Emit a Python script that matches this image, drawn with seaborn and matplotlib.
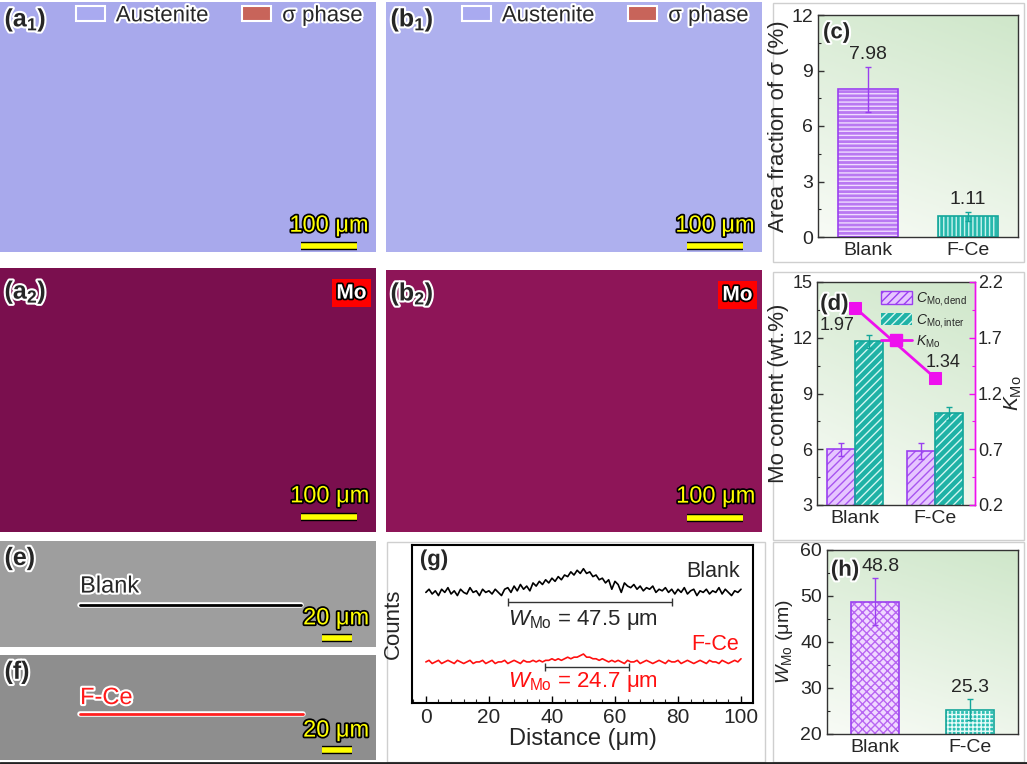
import numpy as np
import pandas as pd
import seaborn as sns
import matplotlib.pyplot as plt
import matplotlib.patheffects as pe
from matplotlib.patches import Patch, Rectangle
from matplotlib.lines import Line2D
from matplotlib.colors import LinearSegmentedColormap
from matplotlib.ticker import AutoMinorLocator, MultipleLocator

# ---- data ----
groups = ["Blank", "F-Ce"]
sigma_frac = [7.98, 1.11]          # (c) area fraction of sigma (%)
sigma_err = [1.2, 0.25]
mo_dend = [6.0, 5.9]               # (d) Mo content in dendrite (wt.%)
mo_dend_err = [0.35, 0.45]
mo_inter = [11.8, 7.95]            # (d) Mo content interdendritic (wt.%)
mo_inter_err = [0.35, 0.35]
k_mo = [1.97, 1.34]                # (d) segregation ratio
k_ticks = [0.2, 0.7, 1.2, 1.7, 2.2]
w_mo = [48.8, 25.3]                # (h) width of Mo segregation (um)
w_mo_err = [5.2, 2.3]

# (g) line-scan profiles (normalised counts)
dist = list(range(101))
blank_counts = [
    0.70, 0.72, 0.69, 0.71, 0.68, 0.72, 0.70, 0.73, 0.69, 0.71,
    0.68, 0.72, 0.70, 0.69, 0.73, 0.70, 0.71, 0.68, 0.72, 0.70,
    0.71, 0.69, 0.72, 0.70, 0.68, 0.72, 0.73, 0.70, 0.74, 0.71,
    0.75, 0.72, 0.74, 0.71, 0.76, 0.74, 0.77, 0.75, 0.78, 0.76,
    0.79, 0.77, 0.80, 0.78, 0.81, 0.80, 0.83, 0.81, 0.84, 0.82,
    0.85, 0.82, 0.83, 0.80, 0.81, 0.78, 0.79, 0.76, 0.78, 0.72,
    0.77, 0.75, 0.70, 0.76, 0.74, 0.73, 0.75, 0.72, 0.74, 0.71,
    0.73, 0.72, 0.74, 0.70, 0.72, 0.71, 0.73, 0.70, 0.72, 0.69,
    0.72, 0.70, 0.73, 0.69, 0.71, 0.72, 0.68, 0.71, 0.70, 0.72,
    0.69, 0.71, 0.70, 0.73, 0.69, 0.72, 0.70, 0.68, 0.71, 0.70,
    0.72]
fce_counts = [
    0.26, 0.27, 0.25, 0.26, 0.27, 0.25, 0.26, 0.27, 0.26, 0.25,
    0.27, 0.26, 0.25, 0.26, 0.27, 0.25, 0.26, 0.26, 0.27, 0.25,
    0.26, 0.27, 0.25, 0.26, 0.26, 0.27, 0.25, 0.26, 0.27, 0.26,
    0.25, 0.27, 0.26, 0.26, 0.27, 0.26, 0.27, 0.26, 0.27, 0.27,
    0.28, 0.27, 0.28, 0.27, 0.28, 0.29, 0.28, 0.29, 0.29, 0.30,
    0.31, 0.29, 0.29, 0.28, 0.28, 0.27, 0.28, 0.27, 0.26, 0.27,
    0.26, 0.27, 0.26, 0.25, 0.27, 0.26, 0.26, 0.27, 0.25, 0.26,
    0.27, 0.26, 0.25, 0.26, 0.27, 0.26, 0.25, 0.27, 0.26, 0.26,
    0.27, 0.25, 0.26, 0.27, 0.26, 0.25, 0.26, 0.27, 0.26, 0.25,
    0.27, 0.26, 0.26, 0.25, 0.27, 0.26, 0.25, 0.26, 0.27, 0.26,
    0.28]

# ---- style ----
sns.set_style("ticks")
plt.rcParams["font.family"] = ["Liberation Sans", "DejaVu Sans"]
plt.rcParams["mathtext.fontset"] = "custom"
plt.rcParams["mathtext.rm"] = "Liberation Sans"
plt.rcParams["mathtext.it"] = "Liberation Sans:italic"
plt.rcParams["mathtext.bf"] = "Liberation Sans:bold"
plt.rcParams["hatch.linewidth"] = 1.0

W, H = 1027, 764
fig = plt.figure(figsize=(W / 100, H / 100), dpi=100)


def box(x0, y0, x1, y1):
    return [x0 / W, 1 - y1 / H, (x1 - x0) / W, (y1 - y0) / H]


halo = [pe.withStroke(linewidth=3, foreground="white")]
dark = [pe.withStroke(linewidth=2.5, foreground="black")]


def micro(rect, color):
    ax = fig.add_axes(box(*rect))
    ax.set_facecolor(color)
    ax.set_xticks([])
    ax.set_yticks([])
    for s in ax.spines.values():
        s.set_visible(False)
    ax.set_xlim(0, 1)
    ax.set_ylim(0, 1)
    return ax


def panel_label(ax, txt, x, y, size=18):
    ax.text(x, y, txt, transform=ax.transAxes, fontsize=size, fontweight="bold",
            ha="left", va="center", path_effects=halo, zorder=10)


def scale_bar(ax, label, tx, ty, bx0, bx1, by):
    ax.text(tx, ty, label, color="#ffff00", fontsize=17, ha="center", va="center",
            path_effects=dark)
    ax.plot([bx0, bx1], [by, by], color="#ffff00", lw=4, solid_capstyle="butt",
            path_effects=[pe.Stroke(linewidth=6, foreground="black"), pe.Normal()])


def phase_legend(ax):
    handles = [Patch(facecolor="#a9aaf0", edgecolor="white", lw=1.5, label="Austenite"),
               Patch(facecolor="#c8645a", edgecolor="white", lw=1.5, label="σ phase")]
    leg = ax.legend(handles=handles, ncol=2, loc="upper right", bbox_to_anchor=(1.0, 1.04),
                    frameon=False, fontsize=16, handlelength=1.3, handleheight=0.6,
                    handletextpad=0.5, columnspacing=1.5, borderaxespad=0.2)
    for t in leg.get_texts():
        t.set_path_effects(halo)


def mo_tag(ax):
    ax.text(0.935, 0.905, "Mo", fontsize=15, fontweight="bold", color="white",
            ha="center", va="center", path_effects=dark,
            bbox=dict(boxstyle="square,pad=0.22", fc="#ff0000", ec="none"))


# ---- micrograph panels ----
a1 = micro((0, 2, 376, 252), "#a8a9ec")
panel_label(a1, r"(a$_\mathbf{1}$)", 0.012, 0.93)
phase_legend(a1)
scale_bar(a1, "100 μm", 0.875, 0.105, 0.80, 0.95, 0.025)

b1 = micro((386, 2, 762, 252), "#aeb0ee")
panel_label(b1, r"(b$_\mathbf{1}$)", 0.012, 0.93)
phase_legend(b1)
scale_bar(b1, "100 μm", 0.875, 0.105, 0.80, 0.95, 0.025)

a2 = micro((0, 268, 376, 532), "#7a0f4e")
panel_label(a2, r"(a$_\mathbf{2}$)", 0.012, 0.91)
mo_tag(a2)
scale_bar(a2, "100 μm", 0.877, 0.135, 0.80, 0.95, 0.055)

b2 = micro((386, 270, 762, 532), "#8e1558")
panel_label(b2, r"(b$_\mathbf{2}$)", 0.012, 0.91)
mo_tag(b2)
scale_bar(b2, "100 μm", 0.877, 0.135, 0.80, 0.95, 0.055)

e = micro((0, 541, 376, 647), "#9e9e9e")
panel_label(e, "(e)", 0.012, 0.84)
e.text(0.213, 0.57, "Blank", fontsize=17, ha="left", va="center", path_effects=halo)
e.plot([0.213, 0.80], [0.40, 0.40], color="black", lw=2,
       path_effects=[pe.Stroke(linewidth=4, foreground="white"), pe.Normal()])
scale_bar(e, "20 μm", 0.894, 0.27, 0.856, 0.936, 0.085)

f = micro((0, 655, 376, 760), "#8e8e8e")
panel_label(f, "(f)", 0.012, 0.84)
f.text(0.213, 0.59, "F-Ce", fontsize=17, color="#ff1a1a", ha="left", va="center",
       path_effects=halo)
f.plot([0.213, 0.806], [0.44, 0.44], color="#ff2020", lw=2,
       path_effects=[pe.Stroke(linewidth=4, foreground="white"), pe.Normal()])
scale_bar(f, "20 μm", 0.894, 0.28, 0.856, 0.936, 0.095)

# ---- chart helpers ----
green = LinearSegmentedColormap.from_list("bg", ["#f8fbf6", "#cfe7ca"])
yy, xx = np.mgrid[0:1:100j, 0:1:100j]
grad = 0.75 * yy + 0.25 * xx


def chart_axes(rect, gradient=True, labelsize=14):
    if gradient:
        bg = fig.add_axes(box(*rect), zorder=0)
        bg.imshow(grad, cmap=green, origin="lower", aspect="auto", extent=[0, 1, 0, 1])
        bg.axis("off")
    ax = fig.add_axes(box(*rect), zorder=1)
    ax.patch.set_alpha(0)
    for s in ax.spines.values():
        s.set_visible(True)
        s.set_color("#333333")
        s.set_linewidth(1)
    ax.tick_params(direction="in", labelsize=labelsize, length=4, width=1, color="#333333")
    ax.tick_params(which="minor", direction="in", length=2.5, width=0.8)
    ax.tick_params(axis="x", length=0)
    return ax


def style_bar(ax, patch, face, hatch, hatch_color, edge):
    patch.set_facecolor(face)
    patch.set_hatch(hatch)
    patch.set_edgecolor(hatch_color)
    patch.set_linewidth(0)
    ax.add_patch(Rectangle(patch.get_xy(), patch.get_width(), patch.get_height(),
                           fill=False, edgecolor=edge, lw=1.2, zorder=patch.get_zorder() + 0.1))


def err(ax, patch, val, e, color):
    x = patch.get_x() + patch.get_width() / 2
    ax.errorbar(x, val, yerr=e, fmt="none", ecolor=color, elinewidth=1, capsize=2.5,
                capthick=1, zorder=5)


PURPLE = "#9a3ff0"
TEAL = "#14a69a"

# ---- (c) ----
axc = chart_axes((818, 15, 1018, 237))
sns.barplot(x=groups, y=sigma_frac, ax=axc, width=0.6, color="#b56cf2")
bars = axc.patches[:2]
style_bar(axc, bars[0], "#b978f2", "----", "#efdcff", PURPLE)
style_bar(axc, bars[1], "#26b8ac", "||||", "#c8f3ee", TEAL)
for p, v, ev, col in zip(bars, sigma_frac, sigma_err, [PURPLE, TEAL]):
    err(axc, p, v, ev, col)
    axc.annotate(f"{v:.2f}", (p.get_x() + p.get_width() / 2, v + ev), xytext=(0, 4),
                 textcoords="offset pixels", ha="center", va="bottom", fontsize=14)
axc.set_ylim(0, 12)
axc.set_xlim(-0.5, 1.5)
axc.yaxis.set_major_locator(MultipleLocator(3))
axc.yaxis.set_minor_locator(AutoMinorLocator(2))
axc.set_ylabel("Area fraction of σ (%)", fontsize=16, labelpad=2)
panel_label(axc, "(c)", 0.025, 0.92, size=16)

# ---- (d) ----
axd = chart_axes((817, 282, 975, 505), labelsize=13)
df_d = pd.DataFrame({"group": groups * 2,
                     "kind": ["dend"] * 2 + ["inter"] * 2,
                     "value": mo_dend + mo_inter})
sns.barplot(data=df_d, x="group", y="value", hue="kind", ax=axd, width=0.7,
            palette=["#e3c0ff", "#1fb2a6"], legend=False)
for p, v, ev in zip(axd.containers[0], mo_dend, mo_dend_err):
    style_bar(axd, p, "#e6c6ff", "////", "#a855f0", PURPLE)
    err(axd, p, v, ev, PURPLE)
for p, v, ev in zip(axd.containers[1], mo_inter, mo_inter_err):
    style_bar(axd, p, "#1fb2a6", "////", "#d2f6f1", TEAL)
    err(axd, p, v, ev, TEAL)
axd.set_ylim(3, 15)
axd.set_xlim(-0.475, 1.5)
axd.yaxis.set_major_locator(MultipleLocator(3))
axd.yaxis.set_minor_locator(AutoMinorLocator(2))
axd.tick_params(axis="x", labelsize=14)
axd.set_ylabel("Mo content (wt.%)", fontsize=16, labelpad=2)
axd.set_xlabel("")
axd.spines["right"].set_color("#ff00ff")

MAGENTA = "#ee10ee"
axk = axd.twinx()
axk.patch.set_alpha(0)
sns.lineplot(x=list(range(len(groups))), y=k_mo, ax=axk, color=MAGENTA, lw=2,
             marker="s", markersize=8, markeredgecolor=MAGENTA)
axk.set_ylim(k_ticks[0], k_ticks[-1])
axk.set_xlim(-0.475, 1.5)
axk.set_yticks(k_ticks)
axk.yaxis.set_minor_locator(AutoMinorLocator(2))
axk.tick_params(axis="y", direction="in", labelsize=13, length=4, width=1, color=MAGENTA,
                pad=2)
axk.tick_params(axis="y", which="minor", direction="in", length=2.5, width=0.8, color=MAGENTA)
axk.spines["right"].set_color(MAGENTA)
axk.spines["right"].set_linewidth(1)
for s in ("left", "top", "bottom"):
    axk.spines[s].set_visible(False)
axk.set_ylabel(r"$K_{\rm Mo}$", fontsize=15, labelpad=0)
axk.annotate(f"{k_mo[0]:.2f}", (0, k_mo[0]), xytext=(-18, -18), textcoords="offset pixels",
             ha="center", va="center", fontsize=13)
axk.annotate(f"{k_mo[1]:.2f}", (1, k_mo[1]), xytext=(8, 15), textcoords="offset pixels",
             ha="center", va="center", fontsize=13)
handles_d = [Patch(facecolor="#e6c6ff", edgecolor=PURPLE, hatch="////", lw=1,
                   label=r"$C_{\rm Mo,dend}$"),
             Patch(facecolor="#1fb2a6", edgecolor="#d2f6f1", hatch="////", lw=0,
                   label=r"$C_{\rm Mo,inter}$"),
             Line2D([], [], color=MAGENTA, lw=2, marker="s", markersize=8,
                    label=r"$K_{\rm Mo}$")]
axk.legend(handles=handles_d, loc="upper right", bbox_to_anchor=(1.0, 1.0), frameon=False,
           fontsize=10, handlelength=2.2, handleheight=1.0, labelspacing=0.25,
           handletextpad=0.3, borderaxespad=0.2)
panel_label(axd, "(d)", 0.02, 0.90, size=16)

# ---- (g) ----
axg = chart_axes((412, 545, 753, 703), gradient=False, labelsize=15)
sns.lineplot(x=dist, y=blank_counts, ax=axg, color="black", lw=1.2)
sns.lineplot(x=dist, y=fce_counts, ax=axg, color="#ff1010", lw=1.2)
axg.set_xlim(-4.4, 103.8)
axg.set_ylim(0, 1)
axg.set_yticks([])
axg.xaxis.set_major_locator(MultipleLocator(20))
axg.xaxis.set_minor_locator(MultipleLocator(4))
axg.tick_params(axis="x", direction="in", length=5, width=1, color="black")
axg.tick_params(axis="x", which="minor", direction="in", length=3, width=0.8)
for s in axg.spines.values():
    s.set_color("black")
    s.set_linewidth(1.5)
axg.set_xlabel("Distance (μm)", fontsize=17, labelpad=1)
axg.set_ylabel("Counts", fontsize=16, labelpad=6)
axg.errorbar(52, 0.64, xerr=26, fmt="none", ecolor="#333333", elinewidth=1, capsize=3)
axg.errorbar(51.1, 0.23, xerr=13.3, fmt="none", ecolor="#333333", elinewidth=1, capsize=3)
axg.text(50, 0.525, r"$W_{\rm Mo}$ = 47.5 μm", fontsize=16, ha="center", va="center")
axg.text(50, 0.135, r"$W_{\rm Mo}$ = 24.7 μm", fontsize=16, ha="center", va="center",
         color="#ff1010")
axg.text(99.5, 0.83, "Blank", fontsize=15.5, ha="right", va="center")
axg.text(99.5, 0.37, "F-Ce", fontsize=15.5, ha="right", va="center", color="#ff1010")
panel_label(axg, "(g)", 0.023, 0.905, size=16)

# ---- (h) ----
axh = chart_axes((827, 550, 1018, 734))
sns.barplot(x=groups, y=w_mo, ax=axh, width=0.5, color="#efd7ff")
bars = axh.patches[:2]
style_bar(axh, bars[0], "#f0d9ff", "xxxx", "#b866f2", PURPLE)
style_bar(axh, bars[1], "#2cbfb3", "++++", "#e6fbf8", TEAL)
for i, (p, v, ev, col) in enumerate(zip(bars, w_mo, w_mo_err, [PURPLE, TEAL])):
    err(axh, p, v, ev, col)
    axh.annotate(f"{v:.1f}", (p.get_x() + p.get_width() / 2, v + ev),
                 xytext=(6 if i == 0 else 0, 3), textcoords="offset pixels",
                 ha="center", va="bottom", fontsize=14)
axh.set_ylim(20, 60)
axh.set_xlim(-0.5, 1.5)
axh.yaxis.set_major_locator(MultipleLocator(10))
axh.yaxis.set_minor_locator(AutoMinorLocator(2))
axh.set_ylabel(r"$W_{\rm Mo}$ (μm)", fontsize=14, labelpad=4)
panel_label(axh, "(h)", 0.02, 0.89, size=16)

# ---- light panel frames ----
for rect in [(773, 3, 1024, 262), (773, 272, 1024, 540), (773, 542, 1024, 762),
             (387, 542, 765, 762)]:
    x0, y0, w, h = box(*rect)
    fig.add_artist(Rectangle((x0, y0), w, h, transform=fig.transFigure, fill=False,
                             ec="#cfcfcf", lw=1))
fig.add_artist(Line2D([0, 1], [1.2 / H, 1.2 / H], transform=fig.transFigure,
                      color="#222222", lw=2))

fig.savefig("out.png", dpi=100)
